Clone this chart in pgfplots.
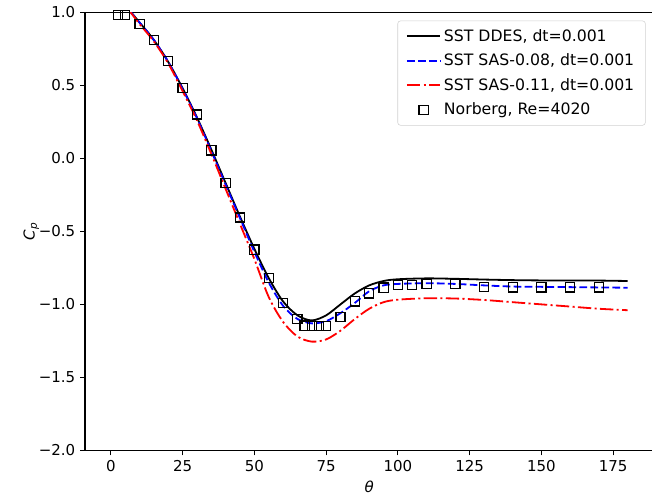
\documentclass[border=0pt]{standalone}
\usepackage{fontspec}
\setmainfont{DejaVu Sans}
\usepackage{pgfplots}
\pgfplotsset{compat=1.18}
\usetikzlibrary{calc}
\tikzset{
  dashblue/.style={blue, line width=1.3pt, dash pattern=on 5.5pt off 2.4pt},
  dashdotred/.style={red, line width=1.3pt, dash pattern=on 9.6pt off 2.4pt on 1.5pt off 2.4pt},
}
\pgfplotsset{
  lineleg/.style={legend image code/.code={\draw[##1] (0pt,0pt) -- (24pt,0pt);}},
  sqleg/.style={legend image code/.code={\draw[mark repeat=1,mark phase=1,##1] plot coordinates {(12pt,0pt)};}},
}

\pgfplotstableread{
x y
2.5 0.98
5 0.98
10 0.92
15 0.81
20 0.665
25 0.48
30 0.30
35 0.055
40 -0.17
45 -0.405
50 -0.625
55 -0.82
60 -0.99
65 -1.10
67.5 -1.145
70 -1.15
72.5 -1.15
75 -1.15
80 -1.085
85 -0.98
90 -0.925
95 -0.885
100 -0.868
105 -0.868
110 -0.858
120 -0.858
130 -0.88
140 -0.884
150 -0.884
160 -0.884
170 -0.884
}\norberg

\pgfplotstableread{
x y
0 1.08
5 1.04
10 0.93
15 0.81
20 0.66
25 0.48
30 0.28
35 0.06
40 -0.17
45 -0.40
50 -0.62
55 -0.82
60 -0.98
65 -1.075
70 -1.11
75 -1.075
80 -1.0
85 -0.925
90 -0.87
95 -0.84
100 -0.828
110 -0.822
120 -0.825
130 -0.83
140 -0.834
150 -0.836
160 -0.836
170 -0.837
180 -0.84
}\ddes

\pgfplotstableread{
x y
0 1.08
5 1.04
10 0.93
15 0.81
20 0.66
25 0.475
30 0.275
35 0.05
40 -0.18
45 -0.41
50 -0.64
55 -0.85
60 -1.01
65 -1.10
70 -1.13
75 -1.115
80 -1.06
85 -0.99
90 -0.91
95 -0.87
100 -0.86
110 -0.855
120 -0.86
130 -0.87
140 -0.878
150 -0.88
160 -0.882
170 -0.884
180 -0.886
}\sasA

\pgfplotstableread{
x y
0 1.08
5 1.04
10 0.92
15 0.80
20 0.65
25 0.46
30 0.26
35 0.03
40 -0.21
45 -0.45
50 -0.69
55 -0.95
60 -1.12
65 -1.22
70 -1.255
75 -1.24
80 -1.18
85 -1.10
90 -1.03
95 -0.985
100 -0.968
110 -0.958
120 -0.96
130 -0.97
140 -0.985
150 -1.0
160 -1.015
170 -1.03
180 -1.04
}\sasB

\begin{document}
\begin{tikzpicture}
\def\u{0.72pt}
\begin{axis}[
  name=ax,
  scale only axis,
  width=409.2pt, height=315.4pt,
  xmin=-9, xmax=189,
  ymin=-2, ymax=1,
  xtick={0,25,...,175},
  ytick={-2,-1.5,-1,-0.5,0,0.5,1},
  yticklabels={−2.0,−1.5,−1.0,−0.5,0.0,0.5,1.0},
  /pgf/number format/assume math mode=true,
  xtick pos=bottom, ytick pos=left,
  tick align=outside,
  major tick length=3.5pt,
  tick style={black, line width=0.8pt},
  axis line style={black, line width=0.8pt},
  ticklabel style={font=\fontsize{10.8}{12}\selectfont},
  xlabel={\itshape θ},
  ylabel={\itshape C\textsubscript{p}},
  label style={font=\fontsize{10.8}{12}\selectfont},
  ylabel style={yshift=-7pt},
  clip=true,
  legend cell align=left,
  legend style={
    at={(1,1)}, anchor=north east, xshift=-5.6pt, yshift=-6pt,
    draw=black!18, rounded corners=2pt, fill=white,
    font=\fontsize{11.3}{13}\selectfont,
    row sep=3.6pt, inner ysep=4pt, inner xsep=6pt,
  },
  lineleg,
]
\addplot[black, line width=1.3pt, smooth] table {\ddes};
\addlegendentry{SST DDES, dt=0.001}
\addplot[dashblue, smooth] table {\sasA};
\addlegendentry{SST SAS-0.08, dt=0.001}
\addplot[dashdotred, smooth] table {\sasB};
\addlegendentry{SST SAS-0.11, dt=0.001}
\addplot[only marks, mark=square, mark size=3.3pt, mark options={black, line width=0.9pt}, sqleg] table {\norberg};
\addlegendentry{Norberg, Re=4020}
\end{axis}
\pgfresetboundingbox
\path[use as bounding box] ($(ax.south west)+(-85*\u,-51*\u)$) rectangle ($(ax.north east)+(-1.4*\u,12.3*\u)$);
\end{tikzpicture}
\end{document}
